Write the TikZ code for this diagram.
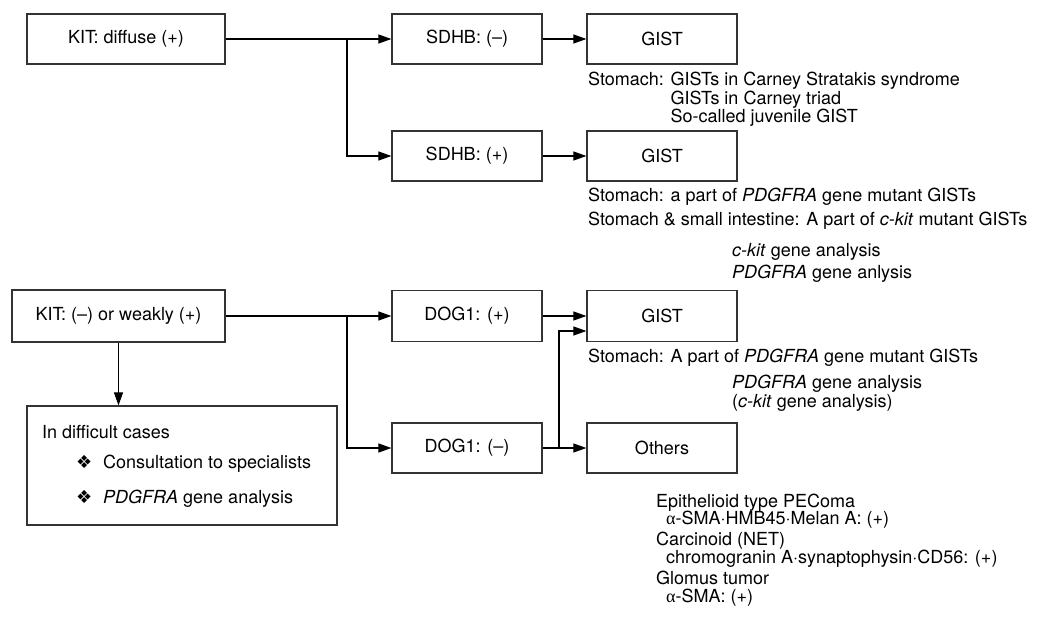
\documentclass[tikz,border=0pt]{standalone}
\usepackage{fontspec}
\setmainfont{TeX Gyre Heros}
\newfontfamily\symfont{DejaVu Sans}
\newfontfamily\grkfont{Liberation Serif}
\usetikzlibrary{arrows.meta}
\begin{document}
\begin{tikzpicture}[x=1pt,y=-1pt,font=\fontsize{18}{21}\selectfont,
  box/.style={draw=black!80,line width=1.2pt,minimum width=150pt,minimum height=50pt,inner sep=0pt},
  conn/.style={line width=1.1pt},
  arr/.style={conn,-{Triangle[length=13pt,width=9pt]}},
  note/.style={anchor=base west,inner sep=0pt},
  bullet/.style={note,font=\fontsize{18}{21}\symfont}]
\useasboundingbox (0,0) rectangle (1047,616);
% boxes
\node[box,minimum width=198pt] (kit1) at (126,39) {KIT: diffuse (+)};
\node[box] (sdhbm) at (467,39) {SDHB: (–)};
\node[box] (gist1) at (662,39) {GIST};
\node[box] (sdhbp) at (467,156) {SDHB: (+)};
\node[box] (gist2) at (662,156) {GIST};
\node[box,minimum width=213pt,minimum height=52pt] (kit2) at (118.5,316) {KIT: (–) or weakly (+)};
\node[box,minimum height=51pt] (dog1p) at (467,316) {DOG1: (+)};
\node[box,minimum height=51pt] (gist3) at (662,316) {GIST};
\node[box] (dog1m) at (467,448) {DOG1: (–)};
\node[box] (others) at (662,448) {Others};
\node[box,minimum width=310pt,minimum height=119pt] (diff) at (182,465.5) {};
% difficult box text
\node[note] (d0) at (42,438.5) {In difficult cases};
\node[bullet] (d1s) at (76,468) {❖};
\node[note] (d1t) at (103,468.5) {Consultation to specialists};
\node[bullet] (d2s) at (76,503) {❖};
\node[note] (d2t) at (103,503.5) {\textit{PDGFRA} gene analysis};
% connectors
\coordinate (b1) at (347,39);
\coordinate (b2) at (347,316);
\coordinate (b3) at (559,448);
\draw[arr] (kit1.east) -- (sdhbm.west);
\draw[arr] (b1) |- (sdhbp.west);
\draw[arr] (sdhbm.east) -- (gist1.west);
\draw[arr] (sdhbp.east) -- (gist2.west);
\draw[arr] (kit2.east) -- (dog1p.west);
\draw[arr] (b2) |- (dog1m.west);
\draw[arr] (dog1p.east) -- (gist3.west);
\draw[arr] (dog1m.east) -- (others.west);
\draw[arr] (b3) |- ([yshift=-15pt]gist3.west);
\draw[arr] (kit2.south) -- (diff.north -| kit2.south);
% notes
\node[note] (n1) at (588,85.5) {Stomach: GISTs in Carney Stratakis syndrome};
\node[note] (n2) at (588,104) {\hphantom{Stomach: }GISTs in Carney triad};
\node[note] (n3) at (588,122.5) {\hphantom{Stomach: }So-called juvenile GIST};
\node[note] (n4) at (588,201.5) {Stomach: a part of \textit{PDGFRA} gene mutant GISTs};
\node[note] (n5) at (588,225) {Stomach \& small intestine: A part of \textit{c-kit} mutant GISTs};
\node[note] (n6) at (732,256.5) {\textit{c-kit} gene analysis};
\node[note] (n7) at (732,278.5) {\textit{PDGFRA} gene anlysis};
\node[note] (n8) at (588,362.5) {Stomach: A part of \textit{PDGFRA} gene mutant GISTs};
\node[note] (n9) at (732,388.5) {\textit{PDGFRA} gene analysis};
\node[note] (n10) at (732,407.5) {(\textit{c-kit} gene analysis)};
\node[note] (o1) at (656,507) {Epithelioid type PEComa};
\node[note] (o2) at (666,524.5) {{\grkfont α}-SMA·HMB45·Melan A: (+)};
\node[note] (o3) at (656,545.5) {Carcinoid (NET)};
\node[note] (o4) at (666,563) {chromogranin A·synaptophysin·CD56: (+)};
\node[note] (o5) at (656,584.5) {Glomus tumor};
\node[note] (o6) at (666,602) {{\grkfont α}-SMA: (+)};
\end{tikzpicture}
\end{document}
